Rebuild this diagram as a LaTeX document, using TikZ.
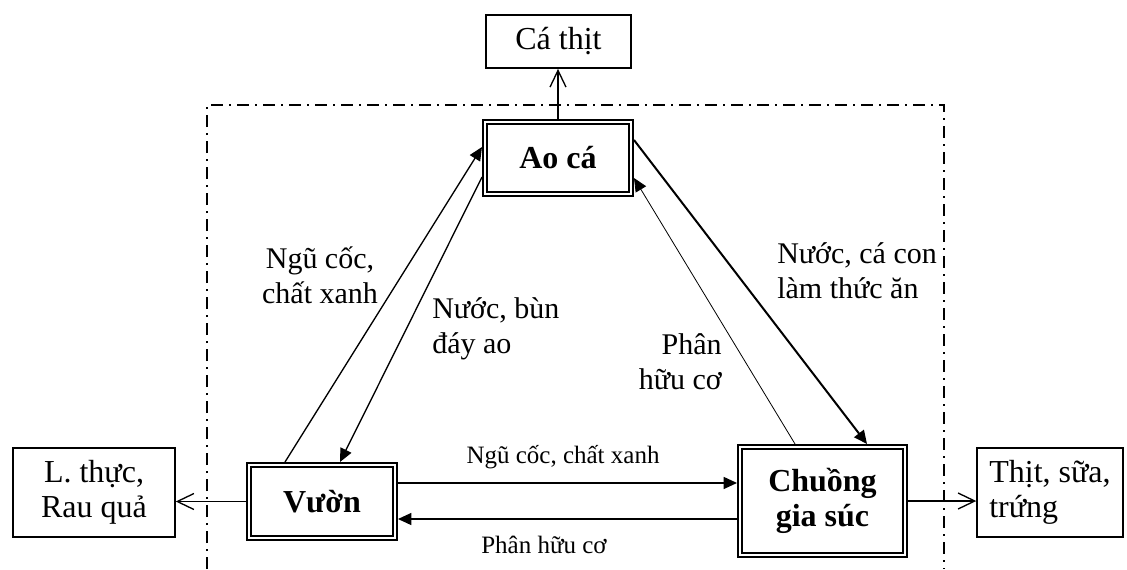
\documentclass[tikz,border=0pt]{standalone}
\usepackage{fontspec}
\setmainfont{Liberation Serif}
\usetikzlibrary{arrows.meta}

\tikzset{
	dbox/.style={draw, double, line width=1.5pt, double distance=1.5pt, inner sep=0pt, outer sep=2.25pt, align=center, font=\fontsize{24}{26.25}\selectfont\bfseries},
	sbox/.style={draw, line width=1.1pt, inner sep=0pt, outer sep=0.55pt, font=\fontsize{24}{26.25}\selectfont},
	lbl/.style={inner sep=0pt, font=\fontsize{22.5}{26.25}\selectfont},
	slbl/.style={inner sep=0pt, font=\fontsize{18.75}{22}\selectfont},
	flow/.style={-{Triangle[length=10pt,width=9pt]}, line width=1pt},
	yield/.style={-{Straight Barb[length=12.5pt,width=12pt]}, line width=1pt}
}

\begin{document}
\begin{tikzpicture}[x=0.75pt, y=-0.75pt]
	\useasboundingbox (0,0) rectangle (1127,569);
	
	% vung he thong
	\draw [line width=1.5pt, dash pattern=on 9pt off 4.5pt on 1.5pt off 4.5pt] (207,569) -- (207,105) -- (944,105) -- (944,569);
	
	% cac hop
	\node [dbox, minimum width=109.5pt, minimum height=54pt] (ao) at (558,158) {Ao cá};
	\node [dbox, minimum width=109.5pt, minimum height=54.75pt] (vuon) at (322,501.5) {Vườn};
	\node [dbox, minimum width=123.75pt, minimum height=81pt] (chuong) at (822.5,501) {Chuồng\\gia súc};
	
	\node [sbox, minimum width=109pt, minimum height=40pt] (cathit) at (558.5,41.5) {Cá thịt};
	\node [sbox, minimum width=121.5pt, minimum height=66.75pt, align=center] (lthuc) at (94,492.5) {L. thực,\\Rau quả};
	\node [sbox, minimum width=109.5pt, minimum height=66.75pt, align=left] (thit) at (1050,492.5) {Thịt, sữa,\\trứng};
	
	% san pham ra ngoai
	\draw [yield] (ao.north) -- (ao.north |- cathit.south);
	\draw [yield] (vuon.west) -- (vuon.west -| lthuc.east);
	\draw [yield] (chuong.east) -- (chuong.east -| thit.west);
	
	% cac dong trao doi
	\draw [flow] ([xshift=-27.75pt]vuon.north) -- ([yshift=8.25pt]ao.west);
	\draw [flow] ([yshift=-14.25pt]ao.west) -- ([xshift=13.5pt]vuon.north);
	\draw [flow, line width=1.5pt] ([yshift=13.5pt]ao.east) -- ([xshift=33.4pt]chuong.north);
	\draw [flow, line width=0.6pt] ([xshift=-20.6pt]chuong.north) -- ([yshift=-15pt]ao.east);
	\draw [flow] ([yshift=13.9pt]vuon.east) -- ([yshift=13.9pt]vuon.east -| chuong.west);
	\draw [flow] ([yshift=-13.5pt]chuong.west) -- ([yshift=-13.5pt]chuong.west -| vuon.east);
	
	% nhan
	\node [lbl, align=center] (ngucoc) at (320,275) {Ngũ cốc,\\chất xanh};
	\node [lbl, align=left, anchor=west] (nuocbun) at (432,329) {Nước, bùn\\đáy ao};
	\node [lbl, align=left, anchor=west] (nuocca) at (777,271) {Nước, cá con\\làm thức ăn};
	\node [lbl, align=right, anchor=east] (phan) at (722,362) {Phân\\hữu cơ};
	\node [slbl, anchor=base] (ngucocx) at (563,463) {Ngũ cốc, chất xanh};
	\node [slbl, anchor=base] (phanx) at (544,553) {Phân hữu cơ};
	
\end{tikzpicture}
\end{document}
